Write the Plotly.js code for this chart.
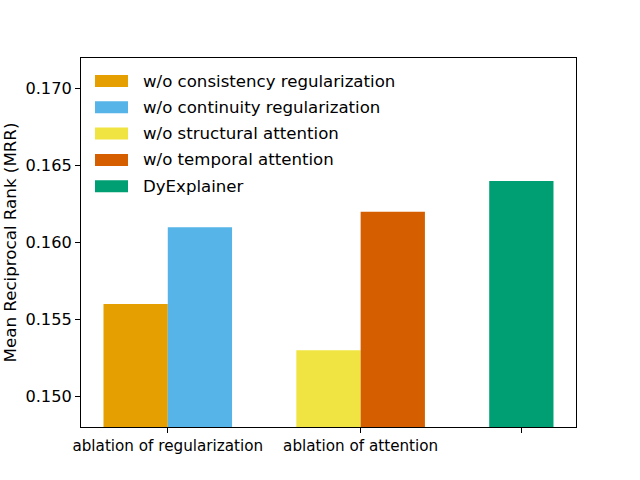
<!DOCTYPE html>
<html>
<head>
<meta charset="utf-8">
<script src="https://cdn.plot.ly/plotly-3.0.1.min.js"></script>
<style>
  html, body { margin: 0; padding: 0; background: #fff; }
  #chart { width: 640px; height: 480px; }
</style>
</head>
<body>
<div id="chart"></div>
<script>
// series names, group positions and MRR values
const seriesNames = ['w/o consistency regularization', 'w/o continuity regularization',
                     'w/o structural attention', 'w/o temporal attention', 'DyExplainer'];
const seriesGroup = [0, 0, 1, 1, 2];
const seriesOffset = [-1 / 3, 0, -1 / 3, 0, -1 / 3];
const seriesValues = [0.156, 0.161, 0.153, 0.162, 0.164];
const seriesColors = ['#E69F00', '#56B4E9', '#F0E442', '#D55E00', '#009E73'];
const tickPositions = [0, 1, 11 / 6];
const tickLabels = ['ablation of regularization', 'ablation of attention', ''];
const barWidth = 1 / 3;

// plot area in pixels, used to place the matplotlib-style legend
const plotW = 495, plotH = 369;
const px = v => v / plotW;
const py = v => 1 - v / plotH;

let traces = seriesNames.map((name, i) => ({
    type: 'bar',
    name: name,
    x: [seriesGroup[i]],
    y: [seriesValues[i]],
    width: barWidth,
    offset: seriesOffset[i],
    marker: { color: seriesColors[i], line: { width: 0 } },
    hoverinfo: 'y'
}));

// legend drawn as patch + label, like matplotlib's
let shapes = [];
let annotations = [];
seriesNames.forEach((name, i) => {
    let rowY = 23 + i * 26.3;
    shapes.push({
        type: 'rect', xref: 'paper', yref: 'paper',
        x0: px(14), x1: px(47), y0: py(rowY + 6), y1: py(rowY - 6),
        fillcolor: seriesColors[i], line: { width: 0 }
    });
    annotations.push({
        xref: 'paper', yref: 'paper', x: px(60), y: py(rowY),
        xanchor: 'left', yanchor: 'middle', showarrow: false,
        text: name,
        font: { family: 'DejaVu Sans', size: 16.6, color: '#000' }
    });
});

let layout = {
    width: 640,
    height: 480,
    margin: { l: 81, r: 64, t: 58, b: 53 },
    paper_bgcolor: '#ffffff',
    plot_bgcolor: '#ffffff',
    barmode: 'overlay',
    showlegend: false,
    font: { family: 'DejaVu Sans', size: 16, color: '#000' },
    shapes: shapes,
    annotations: annotations,
    xaxis: {
        range: [-0.45, 2.1167],
        tickvals: tickPositions,
        ticktext: tickLabels,
        tickfont: { family: 'DejaVu Sans', size: 15.2, color: '#000' },
        ticks: 'outside', ticklen: 5, tickcolor: '#000', tickwidth: 1,
        showgrid: false, zeroline: false,
        showline: true, linecolor: '#000', linewidth: 1, mirror: true
    },
    yaxis: {
        range: [0.148, 0.172],
        tickvals: [0.150, 0.155, 0.160, 0.165, 0.170],
        tickformat: '.3f',
        tickfont: { family: 'DejaVu Sans', size: 16.2, color: '#000' },
        ticks: 'outside', ticklen: 5, tickcolor: '#000', tickwidth: 1,
        showgrid: false, zeroline: false,
        showline: true, linecolor: '#000', linewidth: 1, mirror: true,
        title: { text: 'Mean Reciprocal Rank (MRR)', font: { family: 'DejaVu Sans', size: 16.7, color: '#000' }, standoff: 13 }
    }
};

Plotly.newPlot('chart', traces, layout, { displayModeBar: false, staticPlot: true });
</script>
</body>
</html>
